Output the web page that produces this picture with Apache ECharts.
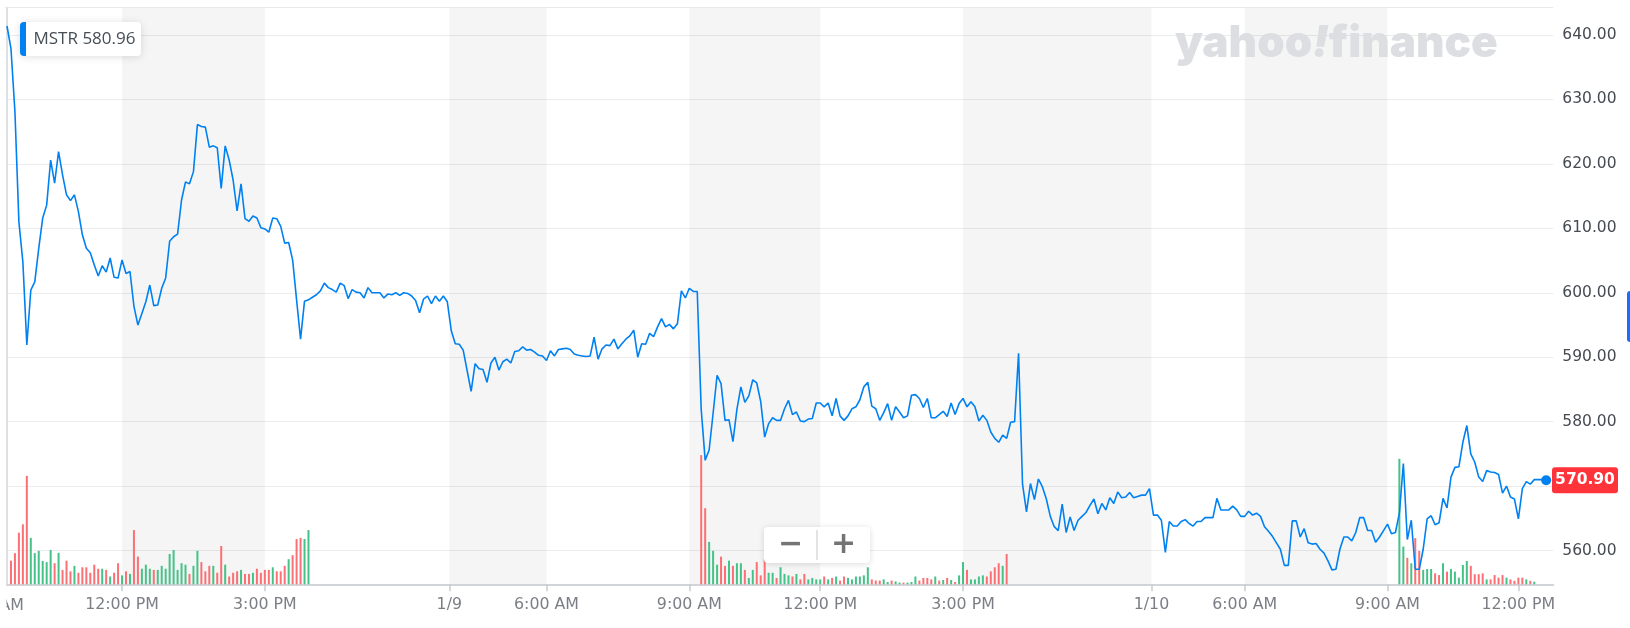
<!DOCTYPE html>
<html><head><meta charset="utf-8">
<script src="https://cdn.jsdelivr.net/npm/echarts@6/dist/echarts.min.js"></script>
<style>html,body{margin:0;padding:0;background:#fff;}#c{width:1630px;height:628px;}</style>
</head><body><div id="c"></div>
<script>
// ---------- data ----------
const ticker = 'MSTR';
const legendValue = '580.96';
const lastPrice = 570.90;

// one price per bar (index on x axis), 1/8 9:35 AM -> 1/10 ~12:35 PM, incl. extended hours
const prices = [
641.4,637.9,628.1,611.0,604.8,591.9,600.4,601.7,606.9,611.6,
613.6,620.6,617.0,621.9,618.3,615.2,614.3,615.2,612.6,609.0,
606.9,606.2,604.3,602.6,604.2,603.2,605.4,602.4,602.3,605.1,
603.0,603.3,597.9,595.0,596.8,598.6,601.2,598.0,598.1,600.7,
602.3,608.0,608.7,609.1,614.4,617.2,616.9,618.8,626.1,625.8,
625.7,622.6,622.8,622.5,616.2,622.8,620.6,617.5,612.7,616.9,
611.5,611.1,611.9,611.6,610.1,609.9,609.4,611.6,611.5,610.3,
607.7,607.8,605.1,598.9,592.8,598.7,598.9,599.3,599.7,600.3,
601.5,600.8,600.5,600.1,601.5,601.1,599.1,600.5,600.1,600.0,
599.2,600.8,600.0,600.0,600.0,599.2,599.8,599.7,600.0,599.6,
600.0,599.9,599.5,598.8,596.9,599.0,599.5,598.3,599.5,598.7,
599.5,598.6,594.1,592.1,592.0,591.1,587.9,584.7,589.0,588.2,
588.1,586.1,589.1,590.0,588.0,589.3,589.7,589.1,590.9,591.0,
591.6,591.1,591.2,590.8,590.3,590.2,589.5,591.0,590.2,591.2,
591.3,591.4,591.2,590.5,590.3,590.2,590.1,590.2,593.1,589.7,
591.3,591.9,591.8,592.8,591.3,592.1,592.8,593.3,594.2,590.0,
592.1,592.0,593.7,593.2,594.7,596.0,594.7,595.1,594.4,595.2,
600.3,599.2,600.7,600.2,600.2,581.9,574.0,575.6,581.3,587.2,
585.9,580.2,580.3,576.9,581.9,585.4,583.0,584.0,586.5,586.0,
583.1,577.6,579.7,580.6,580.2,580.2,582.0,583.3,581.1,581.5,
580.1,580.0,580.4,580.5,582.9,582.9,582.3,582.9,580.9,583.6,
580.9,580.2,580.9,582.0,582.3,583.4,585.4,586.1,582.4,582.0,
580.2,581.4,582.8,580.2,582.3,581.5,580.6,580.9,584.1,584.2,
583.6,582.2,583.6,580.6,580.6,581.1,581.6,580.8,582.9,581.1,
582.8,583.6,582.3,583.1,582.3,580.1,581.0,580.2,578.4,577.4,
576.8,577.9,577.4,579.9,580.0,590.6,570.3,566.0,570.4,567.9,
571.1,569.9,568.0,565.3,563.7,563.1,567.2,562.8,565.2,563.1,
564.7,565.3,565.9,567.0,568.0,565.7,567.3,566.3,568.2,567.3,
569.1,568.2,568.3,569.0,568.2,568.4,568.6,568.6,569.6,565.5,
565.5,564.7,559.7,564.5,563.8,563.8,564.5,564.8,564.2,563.8,
564.5,564.5,565.1,565.1,565.1,568.1,566.3,566.3,566.3,566.9,
566.3,565.3,565.3,566.1,565.5,565.8,565.3,563.7,563.0,562.2,
561.2,560.2,557.7,557.7,564.6,564.6,562.1,563.4,561.2,561.0,
561.1,560.2,559.6,558.4,557.0,557.1,560.2,562.1,562.1,561.5,
562.8,565.1,565.1,563.1,563.1,561.3,562.1,563.1,564.1,562.6,
562.8,565.8,573.5,561.7,564.7,557.1,557.1,560.2,564.9,565.4,
564.0,564.3,568.1,566.6,571.4,572.9,573.0,576.8,579.4,575.0,
573.7,571.4,570.7,572.4,572.2,572.1,571.8,568.9,570.0,568.3,
568.0,564.9,569.6,570.7,570.3,571.0,571.0,571.0,570.9
];

// x-axis tick positions (bar index) and their labels
const tickIndex  = [29, 65, 111.5, 136, 172, 205, 241, 288.5, 312, 348, 381];
const tickLabels = ['12:00 PM','3:00 PM','1/9','6:00 AM','9:00 AM','12:00 PM','3:00 PM','1/10','6:00 AM','9:00 AM','12:00 PM'];
const dayLabels  = ['1/9','1/10'];
const firstLabel = '9:00 AM';
// alternating shaded bands between ticks (bar index)
const shadedBands = [[29,65],[111.5,136],[172,205],[241,288.5],[312,348]];
const priceTicks = [560,570,580,590,600,610,620,630,640];

// volume (thousand shares), regular sessions; dir: g = up bar, r = down bar
const vol1Start = 1;
const vol1 = [82,108,179,208,376,161,108,116,81,77,
119,73,109,50,82,45,64,40,59,59,
40,68,54,54,50,27,40,73,31,45,
36,188,96,54,68,54,50,50,64,54,
105,119,50,73,68,36,64,116,77,45,
64,64,40,133,68,27,40,45,50,36,
36,40,54,40,50,50,59,45,45,64,
87,101,157,161,157,188];
const vol1Dir = 'rrrrrggggg'+'grgrrrgrrr'+'rrrgrgrrgr'+'grrgggrggg'+'gggggrggrr'+'rgrrgrrrgr'+'rgrrrrgrrr'+'grrrgg';

const vol2Start = 175;
const vol2 = [448,264,147,116,68,96,64,82,64,73,
73,50,22,50,77,31,87,40,40,22,
59,36,31,27,36,17,36,17,22,17,
17,27,17,22,27,13,27,22,17,27,
27,31,59,17,13,13,17,8,13,10,
6,6,6,8,27,13,22,22,17,27,
13,15,22,15,8,31,77,50,17,17,
27,31,27,45,59,73,64,105];
const vol2Dir = 'rrgggrrgrg'+'grggrrrggr'+'gggrgrrggg'+'grgrgrrggg'+'gggrrrggrg'+'grgggrrrrg'+'rgrgrggrgg'+'ggrrrrgr';

const vol3Start = 351;
const vol3 = [435,131,92,73,160,116,50,53,53,38,
32,73,44,53,44,23,67,81,64,35,
35,38,17,17,32,23,32,23,17,12,
23,23,17,12,9];
const vol3Dir = 'ggrgrrgggr'+'rgrgggggrr'+'rrgrrrrgrr'+'rrgrg';

// ---------- build ----------
const UP = '#45c287', DOWN = '#fb7074';
function volData(start, vals, dirs){
  return vals.map((v,i)=>({value:[start+i, v], itemStyle:{color: dirs[i]==='g'?UP:DOWN}}));
}
const volumes = [].concat(volData(vol1Start,vol1,vol1Dir), volData(vol2Start,vol2,vol2Dir), volData(vol3Start,vol3,vol3Dir));
const lineData = prices.map((p,i)=>[i,p]);
const lastIdx = prices.length-1;

const FONT = '"DejaVu Sans", sans-serif';
const LOGO = '#dcdee2';

function buildGraphic(tagY){
  const g = [
    {type:'line', z:10, silent:true, shape:{x1:5, y1:7.5, x2:1553, y2:7.5}, style:{stroke:'#e6e8eb', lineWidth:1}},
    {type:'text', z:10, x:24, y:606, style:{text:firstLabel, textAlign:'right', textVerticalAlign:'middle', font:'15.8px '+FONT, fill:'#7b7f85'}},
    {type:'rect', z:11, shape:{x:0, y:588, width:6.5, height:36}, style:{fill:'#ffffff'}},
    {type:'text', z:5, x:1175, y:44, style:{
      text:'{a|yahoo}{b|!}{a|finance}', textAlign:'left', textVerticalAlign:'middle', fill:LOGO,
      rich:{a:{fontFamily:'Inter, sans-serif', fontWeight:900, fontSize:44, fill:LOGO, color:LOGO},
            b:{fontFamily:'Inter, sans-serif', fontWeight:900, fontSize:44, fontStyle:'italic', fill:LOGO, color:LOGO}}}},
    {type:'rect', z:20, shape:{x:20, y:22, width:121, height:34, r:4}, style:{fill:'#ffffff', shadowBlur:8, shadowColor:'rgba(0,0,0,0.13)', shadowOffsetY:1}},
    {type:'rect', z:21, shape:{x:20, y:22, width:6, height:34, r:[4,0,0,4]}, style:{fill:'#0081f2'}},
    {type:'text', z:21, x:33.5, y:39.5, style:{text:ticker+' '+legendValue, textVerticalAlign:'middle', font:'17px "Open Sans", sans-serif', fill:'#464e56'}},
    {type:'rect', z:20, shape:{x:764, y:527, width:106, height:36, r:4}, style:{fill:'#ffffff', shadowBlur:6, shadowColor:'rgba(0,0,0,0.14)', shadowOffsetY:1}},
    {type:'line', z:21, shape:{x1:817, y1:530, x2:817, y2:560}, style:{stroke:'#e3e3e3', lineWidth:2}},
    {type:'text', z:21, x:790.5, y:545, style:{text:'−', textAlign:'center', textVerticalAlign:'middle', font:'bold 30px '+FONT, fill:'#747474'}},
    {type:'text', z:21, x:843.5, y:545, style:{text:'+', textAlign:'center', textVerticalAlign:'middle', font:'bold 30px '+FONT, fill:'#747474'}},
    {type:'rect', z:20, shape:{x:1627, y:291, width:8, height:51, r:3}, style:{fill:'#1a6dff'}}
  ];
  if (tagY != null) {
    g.push({type:'rect', z:22, shape:{x:1552, y:tagY-13, width:66, height:26, r:3}, style:{fill:'#ff333a'}});
    g.push({type:'text', z:23, x:1585, y:tagY, style:{text:lastPrice.toFixed(2), textAlign:'center', textVerticalAlign:'middle', font:'bold 15.5px '+FONT, fill:'#ffffff'}});
  }
  return g;
}

const chart = echarts.init(document.getElementById('c'), null, {renderer:'canvas'});
chart.setOption({
  animation:false,
  backgroundColor:'#ffffff',
  textStyle:{fontFamily:FONT},
  grid:{left:7, right:76.7, top:7.5, bottom:43.7},
  xAxis:{
    type:'value', min:0, max:389.8,
    axisLine:{show:true, lineStyle:{color:'#d2d5d9', width:2}},
    axisTick:{show:true, customValues:tickIndex, length:7, lineStyle:{color:'#c9ccd0', width:1.5}},
    axisLabel:{customValues:tickIndex, margin:13, fontSize:15.8, fontFamily:FONT,
      formatter:(v)=>{const k=tickIndex.indexOf(v); return k>=0?tickLabels[k]:'';},
      color:(v)=>{const k=tickIndex.indexOf(v); return (k>=0 && dayLabels.includes(tickLabels[k]))?'#3c434b':'#7b7f85';}},
    splitLine:{show:false}
  },
  yAxis:[{
    type:'value', position:'right', min:554.76, max:644.27, scale:true,
    axisLine:{show:true, lineStyle:{color:'#d3d6da', width:1.5}},
    axisTick:{show:false, customValues:priceTicks},
    axisLabel:{customValues:priceTicks, margin:9, fontSize:15.5, fontFamily:FONT, color:'#464b52',
      formatter:(v)=>v.toFixed(2)},
    splitLine:{show:true, lineStyle:{color:'#ececec', width:1}}
  },{
    type:'value', min:0, max:2000, show:false, splitLine:{show:false}
  }],
  series:[
    {type:'line', data:[], z:1, silent:true,
     markArea:{silent:true, itemStyle:{color:'rgba(0,0,0,0.04)'},
       data: shadedBands.map(b=>[{xAxis:b[0]},{xAxis:b[1]}])}},
    {type:'bar', yAxisIndex:1, data:volumes, barWidth:2, z:2, silent:true},
    {type:'line', data:lineData, showSymbol:false, symbol:'none', z:3, silent:true,
     lineStyle:{color:'#0081f2', width:1.6},
     markPoint:{silent:true, symbol:'circle', symbolSize:10, itemStyle:{color:'#0081f2'}, label:{show:false},
       data:[{coord:[lastIdx, lastPrice]}]}}
  ],
  graphic: buildGraphic(null)
});
const tagPt = chart.convertToPixel({xAxisIndex:0, yAxisIndex:0}, [lastIdx, lastPrice]);
chart.setOption({graphic: buildGraphic(tagPt[1])});
</script></body></html>
